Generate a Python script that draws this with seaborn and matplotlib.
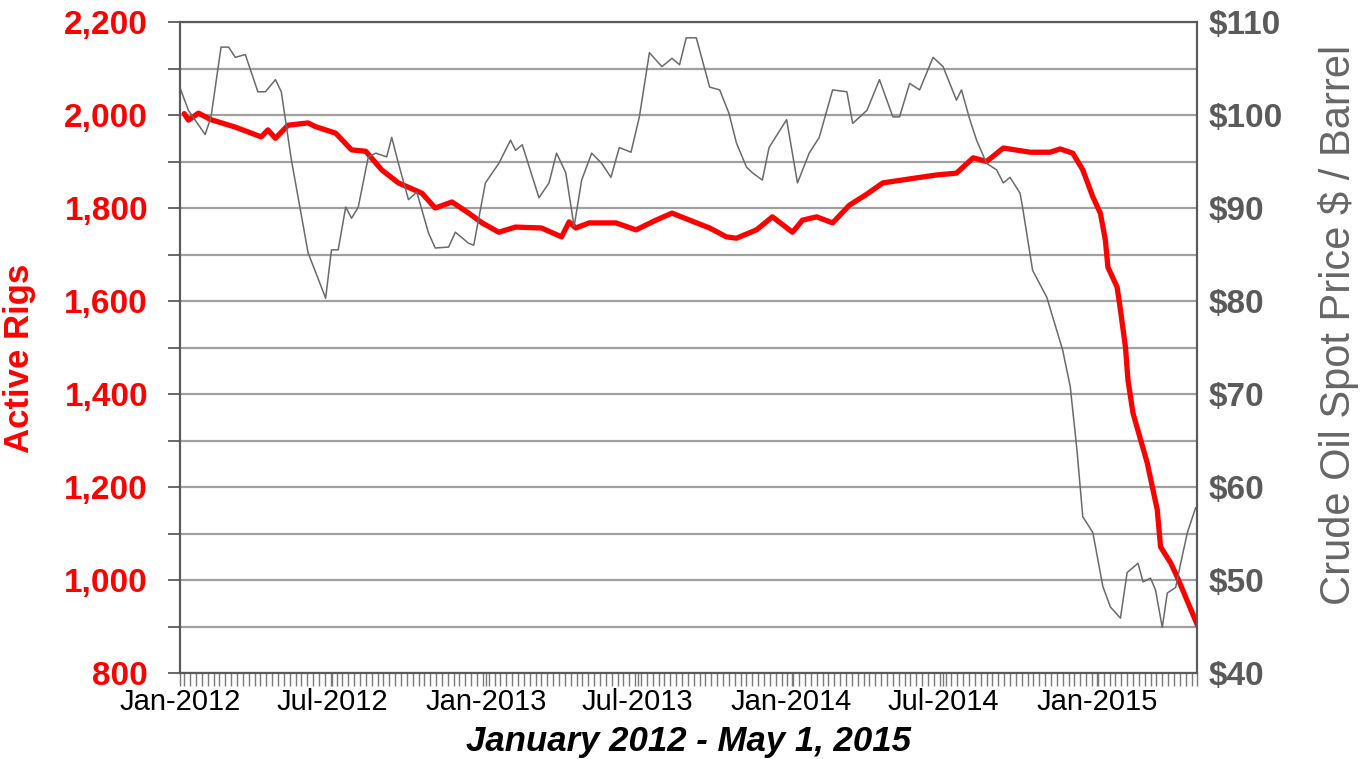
import numpy as np
import pandas as pd
import matplotlib.pyplot as plt
import matplotlib.dates as mdates
from matplotlib.ticker import MultipleLocator
import seaborn as sns

# conteggio rig attivi
rig_dates = ['2012-01-06', '2012-01-11', '2012-01-23', '2012-02-07', '2012-03-07', '2012-04-07',
             '2012-04-15', '2012-04-24', '2012-05-09', '2012-06-02', '2012-06-11', '2012-07-05',
             '2012-07-24', '2012-08-10', '2012-08-29', '2012-09-18', '2012-10-16', '2012-11-01',
             '2012-11-21', '2012-12-11', '2012-12-27', '2013-01-16', '2013-02-05', '2013-03-08',
             '2013-04-01', '2013-04-10', '2013-04-18', '2013-05-04', '2013-06-05', '2013-06-29',
             '2013-07-23', '2013-08-11', '2013-09-01', '2013-09-25', '2013-10-15', '2013-10-27',
             '2013-11-20', '2013-12-09', '2014-01-02', '2014-01-14', '2014-01-31', '2014-02-19',
             '2014-03-11', '2014-04-01', '2014-04-20', '2014-05-31', '2014-06-23', '2014-07-17',
             '2014-08-06', '2014-08-22', '2014-09-11', '2014-10-13', '2014-11-06', '2014-11-18',
             '2014-12-03', '2014-12-15', '2014-12-27', '2015-01-05', '2015-01-11', '2015-01-14',
             '2015-01-25', '2015-01-29', '2015-02-04', '2015-02-07', '2015-02-13', '2015-03-02',
             '2015-03-14', '2015-03-18', '2015-03-30', '2015-04-07', '2015-05-01']
rig_counts = [2003, 1989, 2004, 1990, 1974, 1953,
              1968, 1950, 1978, 1983, 1975, 1961,
              1925, 1922, 1882, 1854, 1832, 1800,
              1813, 1789, 1768, 1748, 1759, 1757,
              1738, 1770, 1757, 1768, 1768, 1753,
              1774, 1789, 1774, 1757, 1738, 1735,
              1753, 1781, 1748, 1774, 1781, 1768,
              1806, 1830, 1854, 1865, 1871, 1875,
              1908, 1900, 1929, 1920, 1920, 1927,
              1918, 1882, 1824, 1789, 1731, 1673,
              1630, 1581, 1501, 1430, 1359, 1252,
              1151, 1071, 1037, 1006, 903]

# prezzo spot del greggio ($/barile)
oil_dates = ['2012-01-01', '2012-01-11', '2012-01-31', '2012-02-07', '2012-02-19', '2012-02-28',
             '2012-03-07', '2012-03-19', '2012-04-03', '2012-04-12', '2012-04-24', '2012-05-01',
             '2012-05-13', '2012-06-02', '2012-06-23', '2012-06-30', '2012-07-08', '2012-07-17',
             '2012-07-24', '2012-08-01', '2012-08-13', '2012-08-22', '2012-09-04', '2012-09-10',
             '2012-09-18', '2012-09-30', '2012-10-10', '2012-10-24', '2012-11-01', '2012-11-17',
             '2012-11-25', '2012-12-11', '2012-12-17', '2012-12-31', '2013-01-16', '2013-01-30',
             '2013-02-05', '2013-02-13', '2013-03-05', '2013-03-17', '2013-03-26', '2013-04-06',
             '2013-04-16', '2013-04-25', '2013-05-07', '2013-05-19', '2013-05-30', '2013-06-09',
             '2013-06-23', '2013-07-03', '2013-07-15', '2013-07-30', '2013-08-11', '2013-08-20',
             '2013-08-28', '2013-09-09', '2013-09-25', '2013-10-07', '2013-10-18', '2013-10-27',
             '2013-11-08', '2013-11-15', '2013-11-27', '2013-12-05', '2013-12-26', '2014-01-08',
             '2014-01-22', '2014-02-03', '2014-02-19', '2014-03-08', '2014-03-15', '2014-04-01',
             '2014-04-16', '2014-05-02', '2014-05-10', '2014-05-22', '2014-06-03', '2014-06-19',
             '2014-07-01', '2014-07-17', '2014-07-23', '2014-08-02', '2014-08-10', '2014-08-22',
             '2014-09-03', '2014-09-11', '2014-09-19', '2014-10-01', '2014-10-04', '2014-10-16',
             '2014-11-02', '2014-11-21', '2014-11-30', '2014-12-08', '2014-12-15', '2014-12-20',
             '2014-12-27', '2015-01-08', '2015-01-17', '2015-01-29', '2015-02-06', '2015-02-19',
             '2015-02-25', '2015-03-06', '2015-03-12', '2015-03-20', '2015-03-26', '2015-04-05',
             '2015-04-11', '2015-04-19', '2015-04-29']
oil_prices = [102.9, 100.5, 97.9, 99.8, 107.3, 107.3,
              106.2, 106.5, 102.5, 102.5, 103.8, 102.5,
              95.2, 85.2, 80.3, 85.5, 85.5, 90.1,
              88.9, 90.1, 95.5, 95.9, 95.5, 97.6,
              94.8, 90.9, 91.7, 87.3, 85.7, 85.8,
              87.4, 86.2, 86.0, 92.7, 94.8, 97.3,
              96.2, 96.8, 91.1, 92.7, 95.9, 93.8,
              88.0, 93.0, 95.9, 94.8, 93.3, 96.5,
              96.0, 99.8, 106.7, 105.2, 106.1, 105.4,
              108.3, 108.3, 103.0, 102.7, 100.2, 97.0,
              94.4, 93.8, 93.0, 96.5, 99.5, 92.7,
              95.9, 97.6, 102.7, 102.5, 99.1, 100.5,
              103.8, 99.8, 99.8, 103.4, 102.7, 106.2,
              105.2, 101.6, 102.7, 99.5, 97.3, 94.8,
              94.1, 92.7, 93.3, 91.6, 90.1, 83.3,
              80.4, 74.7, 70.8, 64.0, 56.8, 56.1,
              55.1, 49.3, 47.1, 45.9, 50.8, 51.8,
              49.8, 50.2, 48.9, 44.9, 48.6, 49.2,
              51.8, 55.1, 57.8]

rig_ticks = [800, 1000, 1200, 1400, 1600, 1800, 2000, 2200]
price_ticks = [40, 50, 60, 70, 80, 90, 100, 110]

sns.set_style('white')
plt.rcParams['font.family'] = ['Liberation Sans', 'DejaVu Sans']

rigs = pd.DataFrame({'date': pd.to_datetime(rig_dates), 'rigs': rig_counts})
oil = pd.DataFrame({'date': pd.to_datetime(oil_dates), 'price': oil_prices})

fig = plt.figure(figsize=(13.61, 7.59), dpi=100)
ax = fig.add_axes([0.1323, 0.1133, 0.7475, 0.8577])
ax2 = ax.twinx()

sns.lineplot(data=rigs, x='date', y='rigs', ax=ax, color='#ff0000', linewidth=3.8, zorder=3)
sns.lineplot(data=oil, x='date', y='price', ax=ax2, color='#6a6a6a', linewidth=1.1)

# asse sinistro: rig
ax.set_ylim(800, 2200)
ax.set_yticks(rig_ticks)
ax.set_yticklabels([f'{v:,}' for v in rig_ticks], fontweight='bold')
ax.yaxis.set_minor_locator(MultipleLocator(100))
ax.grid(axis='y', which='both', color='#a0a0a0', linewidth=1.6)
ax.grid(axis='x', visible=False)
ax.tick_params(axis='y', which='both', direction='out', length=9, width=1.3,
               color='#5a5a5a', pad=14, labelsize=24, labelcolor='#ff0000', left=True)

# asse destro: prezzo
ax2.set_ylim(40, 110)
ax2.set_yticks(price_ticks)
ax2.set_yticklabels([f'${v}' for v in price_ticks], fontweight='bold')
ax2.tick_params(axis='y', length=0, pad=8, labelsize=24, labelcolor='#5a5a5a')

# asse x con date
ax.set_xlim(pd.Timestamp('2012-01-01'), pd.Timestamp('2015-05-01'))
ax.xaxis.set_major_locator(mdates.MonthLocator(bymonth=[1, 7]))
ax.xaxis.set_major_formatter(mdates.DateFormatter('%b-%Y'))
ax.xaxis.set_minor_locator(mdates.WeekdayLocator(byweekday=mdates.FR))
ax.tick_params(axis='x', which='both', direction='out', length=9, width=1,
               color='#7a7a7a', pad=2, labelsize=21, labelcolor='#000000', bottom=True)

for a in (ax, ax2):
    for s in a.spines.values():
        s.set_visible(True)
        s.set_color('#5a5a5a')
        s.set_linewidth(1.5)

ax.set_ylabel('Active Rigs', color='#ff0000', fontsize=25, fontweight='bold')
ax.yaxis.set_label_coords(-0.142, 0.484)
ax2.set_ylabel('Crude Oil Spot Price $ / Barrel', color='#666666', fontsize=30)
ax2.yaxis.set_label_coords(1.119, 0.535)
ax.set_xlabel('January 2012 - May 1, 2015', fontsize=25, fontweight='bold',
              style='italic', labelpad=6, color='#000000')

fig.savefig('out.png', dpi=100)
